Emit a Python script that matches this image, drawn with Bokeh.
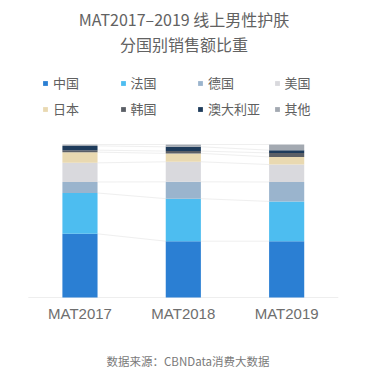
from bokeh.plotting import figure
from bokeh.models import Range1d, Label, Legend, LegendItem, ColumnDataSource
from bokeh.core.properties import value
from bokeh.embed import file_html
from bokeh.resources import INLINE

periods = ["MAT2017", "MAT2018", "MAT2019"]
countries = ["中国", "法国", "德国", "美国", "日本", "韩国", "澳大利亚", "其他"]
china = [41.6, 36.8, 36.8]
france = [26.7, 27.8, 26.0]
germany = [7.2, 11.0, 12.7]
usa = [12.5, 13.1, 11.4]
japan = [7.0, 5.5, 5.0]
korea = [1.3, 1.5, 2.6]
australia = [2.8, 2.8, 1.8]
other = [0.9, 1.5, 3.7]
series = [china, france, germany, usa, japan, korea, australia, other]
colors = ["#2b7fd3", "#4dbdf0", "#9ab4cd", "#d9d9dd", "#e9d9b1", "#5b5f66", "#1e3b5b", "#a3a9b1"]
title_lines = ["MAT2017–2019 线上男性护肤", "分国别销售额比重"]
source_text = "数据来源：CBNData消费大数据"

FONT = "Noto Sans CJK SC"
BAR_W = 0.34

xs = list(range(len(periods)))
data = {"x": xs, "period": periods}
for name, vals in zip(countries, series):
    data[name] = vals
src = ColumnDataSource(data)

p = figure(x_range=Range1d(-0.769, 2.879), y_range=Range1d(-56.86, 194.12),
           width=377, height=384, output_backend="svg", toolbar_location=None,
           min_border=0)
p.outline_line_color = None
p.xgrid.visible = False
p.ygrid.visible = False
p.xaxis.visible = False
p.yaxis.visible = False
p.background_fill_color = "white"
p.border_fill_color = "white"

# faint connecting lines between bar boundaries
cum = []
running = [0.0] * len(periods)
for vals in series:
    running = [r + v for r, v in zip(running, vals)]
    cum.append(list(running))
x0s, x1s, y0s, y1s = [], [], [], []
for c in cum:
    for i in range(len(periods) - 1):
        x0s.append(xs[i] + BAR_W / 2); x1s.append(xs[i + 1] - BAR_W / 2)
        y0s.append(c[i]); y1s.append(c[i + 1])
p.segment(x0=x0s, x1=x1s, y0=y0s, y1=y1s, line_color="#efefef", line_width=1)

# baseline
p.segment(x0=[xs[0] - 0.5], x1=[xs[-1] + 0.5], y0=[0], y1=[0], line_color="#eeeeee", line_width=1)

rs = p.vbar_stack(countries, x="x", width=BAR_W, source=src, color=colors, line_color=None)

# category labels
p.text(x=xs, y=[0] * len(xs), text=periods, y_offset=16, text_align="center",
       text_baseline="middle", text_font=value("Liberation Sans"),
       text_font_size="15px", text_color="#6e6e6e")

# legends: 4 columns of 2 rows
col_x = [42, 119.5, 197, 273.5]
for ci in range(4):
    items = [LegendItem(label=countries[ci], renderers=[rs[ci]]),
             LegendItem(label=countries[ci + 4], renderers=[rs[ci + 4]])]
    lg = Legend(items=items, location=(col_x[ci], 266), orientation="vertical",
                glyph_width=6, glyph_height=6, label_height=15, spacing=7,
                label_standoff=5, padding=0, margin=0, border_line_color=None,
                background_fill_alpha=0, label_text_font=FONT,
                label_text_font_size="13px", label_text_color="#606060")
    p.add_layout(lg)

p.add_layout(Label(x=183.5, y=366, x_units="screen", y_units="screen", text=title_lines[0],
                   text_align="center", text_baseline="middle", text_font=FONT,
                   text_font_size="16px", text_color="#626262"))
p.add_layout(Label(x=183.5, y=341, x_units="screen", y_units="screen", text=title_lines[1],
                   text_align="center", text_baseline="middle", text_font=FONT,
                   text_font_size="16px", text_color="#626262"))
p.add_layout(Label(x=187.5, y=24, x_units="screen", y_units="screen", text=source_text,
                   text_align="center", text_baseline="middle", text_font=FONT,
                   text_font_size="11.5px", text_color="#7a7a7a"))

open("out.html", "w").write(file_html(p, INLINE))
